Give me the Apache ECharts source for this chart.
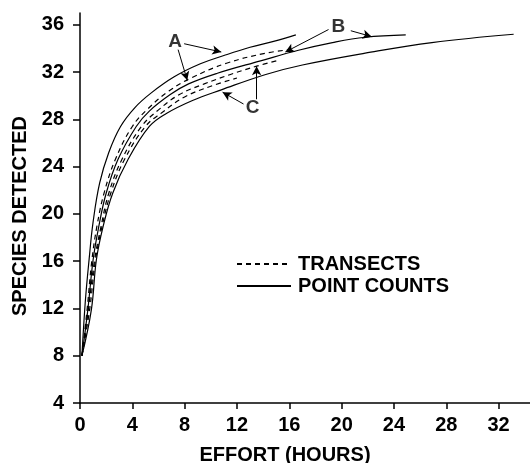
<!DOCTYPE html>
<html>
<head>
<meta charset="utf-8">
<script src="https://cdn.jsdelivr.net/npm/echarts@6/dist/echarts.min.js"></script>
<style>
  html, body { margin: 0; padding: 0; background: #fff; }
  #chart { width: 530px; height: 463px; }
</style>
</head>
<body>
<div id="chart"></div>
<script>
// tick values
const effortTicks = [0, 4, 8, 12, 16, 20, 24, 28, 32]
const speciesTicks = [4, 8, 12, 16, 20, 24, 28, 32, 36]

// point counts (solid)
const pcAEffort = [0.15, 0.4, 0.7, 1.0, 1.5, 2.2, 3.1, 4.2, 5.4, 7.2, 9.2, 11.0, 13.0, 14.8, 16.5]
const pcASpecies = [8, 12.5, 16.2, 19.3, 22.6, 25.2, 27.4, 29.0, 30.2, 31.6, 32.7, 33.4, 34.1, 34.6, 35.15]
const pcBEffort = [0.15, 0.6, 1.0, 1.43, 2.0, 2.9, 4.3, 5.3, 6.9, 8.3, 10.5, 13.8, 16.7, 19.3, 21.8, 24.9]
const pcBSpecies = [8, 11.9, 16.1, 18.9, 21.75, 24.6, 27.4, 28.7, 30.1, 31.0, 31.9, 32.95, 33.85, 34.5, 34.95, 35.15]
const pcCEffort = [0.15, 0.87, 1.25, 1.76, 2.5, 3.67, 5.3, 6.6, 8.6, 10.8, 14.2, 17.0, 21.8, 26.9, 33.15]
const pcCSpecies = [8, 11.9, 16.1, 18.9, 21.75, 24.6, 27.4, 28.5, 29.6, 30.5, 31.8, 32.6, 33.6, 34.5, 35.2]

// transects (dashed)
const trBEffort = [0.15, 0.55, 0.9, 1.3, 1.85, 2.7, 4.0, 5.2, 6.8, 8.5, 11.2, 14.2, 16.1]
const trBSpecies = [8, 12, 16, 19, 21.8, 24.6, 27.4, 28.9, 30.4, 31.5, 32.75, 33.6, 33.9]
const trAEffort = [0.15, 0.65, 1.1, 1.6, 2.2, 3.2, 4.7, 6.0, 7.6, 9.5, 11.5, 13.5, 15.2]
const trASpecies = [8, 12, 16, 18.9, 21.75, 24.6, 27.4, 28.8, 30.1, 31.0, 31.8, 32.5, 33.0]
const trCEffort = [0.15, 0.75, 1.17, 1.68, 2.35, 3.4, 5.0, 6.3, 8.0, 10.0, 12.0]
const trCSpecies = [8, 12, 16, 18.9, 21.75, 24.6, 27.4, 28.6, 29.9, 30.8, 31.5]

// curve labels and their arrows
const labelNames = ['A', 'B', 'C']
const labelEffort = [7.27, 19.75, 13.2]
const labelSpecies = [34.6, 35.8, 29.0]
const arrowFrom = [[7.96, 34.4], [7.5, 33.9], [19.0, 35.6], [20.7, 35.5], [12.5, 29.3], [13.5, 29.7]]
const arrowTo = [[10.8, 33.7], [8.2, 31.3], [15.7, 33.7], [22.3, 35.0], [10.9, 30.3], [13.5, 32.5]]

const zip = (xs, ys) => xs.map((x, i) => [x, ys[i]])
const font = 'Liberation Sans'

function curve (name, xs, ys, dashed) {
  return {
    name: name,
    type: 'line',
    data: zip(xs, ys),
    smooth: 0.4,
    showSymbol: false,
    symbol: 'none',
    itemStyle: { color: '#000' },
    lineStyle: { color: '#000', width: 1.2, type: dashed ? [5, 4] : 'solid' },
    silent: true
  }
}

const chart = echarts.init(document.getElementById('chart'))
const option = {
  animation: false,
  backgroundColor: '#fff',
  grid: { left: 80, right: 0, top: 13, bottom: 60, containLabel: false, outerBoundsMode: 'none' },
  legend: {
    data: ['TRANSECTS', 'POINT COUNTS'],
    orient: 'vertical',
    left: 236,
    top: 254,
    padding: 0,
    itemWidth: 54,
    itemHeight: 12,
    itemGap: 2,
    itemStyle: { opacity: 0 },
    textStyle: { fontFamily: font, fontSize: 20, fontWeight: 'bold', color: '#000', padding: [0, 0, 0, 2] }
  },
  xAxis: {
    type: 'value',
    min: 0,
    max: 34.4,
    interval: 4,
    splitLine: { show: false },
    axisLine: { lineStyle: { color: '#000', width: 1.5 } },
    axisTick: { length: 6, lineStyle: { color: '#000', width: 1.5 }, customValues: effortTicks },
    axisLabel: { margin: 12, fontFamily: font, fontSize: 20, fontWeight: 'bold', color: '#000', customValues: effortTicks },
    name: 'EFFORT (HOURS)',
    nameLocation: 'middle',
    nameGap: 42,
    nameTextStyle: { fontFamily: font, fontSize: 20, fontWeight: 'bold', color: '#000', padding: [0, 40, 0, 0] }
  },
  yAxis: {
    type: 'value',
    min: 4,
    max: 37,
    interval: 4,
    splitLine: { show: false },
    axisLine: { lineStyle: { color: '#000', width: 1.5 } },
    axisTick: { length: 7, lineStyle: { color: '#000', width: 1.5 }, customValues: speciesTicks },
    axisLabel: { margin: 16, fontFamily: font, fontSize: 20, fontWeight: 'bold', color: '#000', customValues: speciesTicks },
    name: 'SPECIES DETECTED',
    nameLocation: 'middle',
    nameGap: 50,
    nameTextStyle: { fontFamily: font, fontSize: 20, fontWeight: 'bold', color: '#000', padding: [0, 16, 0, 0] }
  },
  series: [
    curve('TRANSECTS', trAEffort, trASpecies, true),
    curve('TRANSECTS', trBEffort, trBSpecies, true),
    curve('TRANSECTS', trCEffort, trCSpecies, true),
    curve('POINT COUNTS', pcAEffort, pcASpecies, false),
    curve('POINT COUNTS', pcBEffort, pcBSpecies, false),
    curve('POINT COUNTS', pcCEffort, pcCSpecies, false),
    {
      name: 'labels',
      type: 'scatter',
      symbolSize: 0,
      silent: true,
      data: labelNames.map((n, i) => ({ name: n, value: [labelEffort[i], labelSpecies[i]] })),
      label: {
        show: true,
        position: 'inside',
        formatter: '{b}',
        fontFamily: font,
        fontSize: 19,
        fontWeight: 'bold',
        color: '#000'
      },
      markLine: {
        silent: true,
        animation: false,
        symbolSize: [7, 9],
        label: { show: false },
        lineStyle: { color: '#000', width: 1, type: 'solid' },
        data: arrowFrom.map((p, i) => [
          { coord: p, symbol: 'none' },
          { coord: arrowTo[i], symbol: 'arrow' }
        ])
      }
    }
  ]
}
chart.setOption(option)
</script>
</body>
</html>
